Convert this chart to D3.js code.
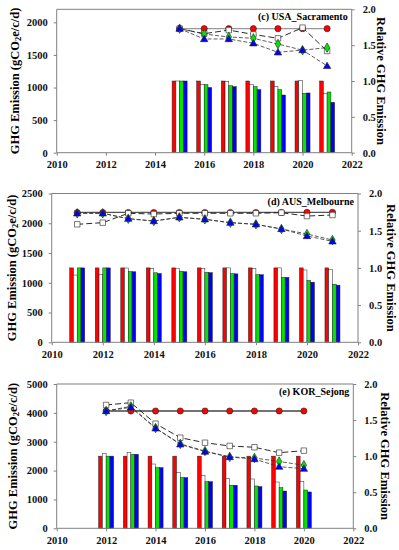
<!DOCTYPE html>
<html><head><meta charset="utf-8">
<script src="https://cdn.jsdelivr.net/npm/d3@7"></script>
<style>body{margin:0;background:#fff}svg{display:block}</style>
</head><body>
<script>
// ---------- DATA ----------
// (c) USA_Sacramento
const yearsC = [2015, 2016, 2017, 2018, 2019, 2020, 2021];
const barRedC   = [1100, 1100, 1100, 1100, 1100, 1100, 1100];
const barWhiteC = [1100, 1050, 1090, 1050, 1013, 1105, 905];
const barGreenC = [1100, 1045, 1028, 1013, 967, 911, 931];
const barBlueC  = [1100, 1000, 1013, 967, 885, 916, 773];
const lineRedC   = [1.73, 1.73, 1.73, 1.73, 1.73, 1.73, 1.73];
const lineWhiteC = [1.73, 1.66, 1.71, 1.65, 1.595, 1.744, 1.418];
const lineGreenC = [1.73, 1.655, 1.614, 1.595, 1.516, 1.43, 1.465];
const lineBlueC  = [1.73, 1.586, 1.586, 1.526, 1.40, 1.432, 1.21];

// (d) AUS_Melbourne
const yearsD = [2011, 2012, 2013, 2014, 2015, 2016, 2017, 2018, 2019, 2020, 2021];
const barRedD   = [1250, 1250, 1250, 1250, 1250, 1250, 1250, 1250, 1250, 1250, 1250];
const barWhiteD = [1130, 1140, 1248, 1240, 1245, 1240, 1250, 1240, 1250, 1215, 1225];
const barGreenD = [1250, 1250, 1188, 1168, 1195, 1175, 1152, 1135, 1090, 1040, 975];
const barBlueD  = [1250, 1250, 1185, 1155, 1185, 1170, 1150, 1135, 1090, 1010, 960];
const lineRedD   = [1.745, 1.745, 1.745, 1.745, 1.745, 1.745, 1.745, 1.745, 1.745, 1.747, 1.747];
const lineWhiteD = [1.586, 1.608, 1.734, 1.724, 1.734, 1.734, 1.734, 1.734, 1.742, 1.697, 1.711];
const lineGreenD = [1.734, 1.734, 1.661, 1.630, 1.680, 1.653, 1.608, 1.586, 1.523, 1.456, 1.375];
const lineBlueD  = [1.734, 1.734, 1.661, 1.630, 1.680, 1.653, 1.608, 1.586, 1.523, 1.429, 1.357];

// (e) KOR_Sejong
const yearsE = [2012, 2013, 2014, 2015, 2016, 2017, 2018, 2019, 2020];
const barRedE   = [2500, 2500, 2500, 2500, 2500, 2500, 2500, 2500, 2500];
const barWhiteE = [2600, 2633, 2228, 1927, 1836, 1732, 1708, 1604, 1628];
const barGreenE = [2500, 2564, 2100, 1753, 1615, 1490, 1466, 1407, 1327];
const barBlueE  = [2500, 2564, 2100, 1753, 1615, 1490, 1442, 1292, 1258];
const lineRedE   = [1.626, 1.626, 1.626, 1.626, 1.626, 1.626, 1.626, 1.626, 1.626];
const lineWhiteE = [1.709, 1.741, 1.450, 1.256, 1.186, 1.141, 1.123, 1.048, 1.076];
const lineGreenE = [1.626, 1.690, 1.390, 1.170, 1.070, 0.990, 0.975, 0.925, 0.875];
const lineBlueE  = [1.626, 1.677, 1.386, 1.164, 1.062, 0.988, 0.960, 0.854, 0.826];

// tick labels
const xTicks = [2010, 2012, 2014, 2016, 2018, 2020, 2022];
const rightTicks = [0, 0.5, 1.0, 1.5, 2.0];
const leftTicksC = [0, 500, 1000, 1500, 2000];
const leftTicksD = [0, 500, 1000, 1500, 2000, 2500];
const leftTicksE = [0, 1000, 2000, 3000, 4000, 5000];
const titles = ["(c) USA_Sacramento", "(d) AUS_Melbourne", "(e) KOR_Sejong"];

// ---------- DRAW ----------
const W = 399, H = 550;
const svg = d3.select("body").append("svg").attr("width", W).attr("height", H)
  .style("font-family", "'Liberation Serif','DejaVu Serif',serif");

const colors = ["#ff0000", "#ffffff", "#00e600", "#0000ff"];

const panels = [
  {x0: 56.7, x1: 351.7, y0: 9.3, y1: 152.7, lmax: 2200, lticks: leftTicksC, years: yearsC,
   bars: [barRedC, barWhiteC, barGreenC, barBlueC], lines: [lineRedC, lineWhiteC, lineGreenC, lineBlueC],
   title: titles[0], ltx: 15, rtx: 381, redLine: "#999"},
  {x0: 51.7, x1: 358, y0: 193.5, y1: 342.3, lmax: 2500, lticks: leftTicksD, years: yearsD,
   bars: [barRedD, barWhiteD, barGreenD, barBlueD], lines: [lineRedD, lineWhiteD, lineGreenD, lineBlueD],
   title: titles[1], ltx: 12, rtx: 391, redLine: "#555"},
  {x0: 56.7, x1: 353.3, y0: 384, y1: 528.3, lmax: 5000, lticks: leftTicksE, years: yearsE,
   bars: [barRedE, barWhiteE, barGreenE, barBlueE], lines: [lineRedE, lineWhiteE, lineGreenE, lineBlueE],
   title: titles[2], ltx: 13, rtx: 385, redLine: "#444"}
];

const axisColor = "#808080";

panels.forEach(p => {
  const x = d3.scaleLinear().domain([2010, 2022]).range([p.x0, p.x1]);
  const yl = d3.scaleLinear().domain([0, p.lmax]).range([p.y1, p.y0]);
  const yr = d3.scaleLinear().domain([0, 2]).range([p.y1, p.y0]);
  const g = svg.append("g");

  // bars
  const bw = 3.75;
  p.bars.forEach((series, si) => {
    g.selectAll(null).data(series.map((v, i) => ({yr: p.years[i], v})))
      .enter().append("rect")
      .attr("x", d => x(d.yr) + (si - 2) * bw)
      .attr("y", d => yl(d.v))
      .attr("width", bw)
      .attr("height", d => yl(0) - yl(d.v))
      .attr("fill", colors[si])
      .attr("stroke", "#222")
      .attr("stroke-width", 0.5);
  });

  // frame top
  g.append("line").attr("x1", p.x0).attr("x2", p.x1).attr("y1", p.y0).attr("y2", p.y0)
    .attr("stroke", axisColor).attr("stroke-width", 1);

  // axes
  const ax = d3.axisBottom(x).tickValues(xTicks).tickFormat(d3.format("d")).tickSize(3).tickPadding(5);
  const al = d3.axisLeft(yl).tickValues(p.lticks).tickFormat(d3.format("d")).tickSize(3).tickPadding(6);
  const ar = d3.axisRight(yr).tickValues(rightTicks).tickFormat(d3.format(".1f")).tickSize(3).tickPadding(8);
  const styleAxis = sel => {
    sel.select(".domain").attr("stroke", axisColor).attr("stroke-width", 1);
    sel.selectAll(".tick line").attr("stroke", axisColor);
    sel.selectAll("text").attr("font-family", "'Liberation Serif',serif")
      .attr("font-weight", "bold").attr("font-size", 10.5).attr("fill", "#111");
  };
  g.append("g").attr("transform", `translate(0,${p.y1})`).call(ax).call(styleAxis)
    .call(s => s.select(".domain").attr("d", `M${p.x0},0H${p.x1}`));
  g.append("g").attr("transform", `translate(${p.x0},0)`).call(al).call(styleAxis)
    .call(s => s.select(".domain").attr("d", `M0,${p.y0}V${p.y1}`));
  g.append("g").attr("transform", `translate(${p.x1},0)`).call(ar).call(styleAxis)
    .call(s => s.select(".domain").attr("d", `M0,${p.y0}V${p.y1}`));

  // lines
  const lineGen = d3.line().x(d => x(d.yr)).y(d => yr(d.v));
  const styles = [
    {stroke: p.redLine, dash: null, w: 1.3},
    {stroke: "#111", dash: "6,3", w: 0.9},
    {stroke: "#333", dash: "4,2", w: 0.8},
    {stroke: "#333", dash: "4,2", w: 0.8}
  ];
  const pts = p.lines.map(s => s.map((v, i) => ({yr: p.years[i], v})));
  pts.forEach((d, si) => {
    g.append("path").datum(d).attr("d", lineGen).attr("fill", "none")
      .attr("stroke", styles[si].stroke).attr("stroke-width", styles[si].w)
      .attr("stroke-dasharray", styles[si].dash);
  });
  // markers
  const sym = [d3.symbolCircle, d3.symbolSquare, d3.symbolDiamond, d3.symbolTriangle];
  const sizes = [30, 30, 26, 24];
  pts.forEach((d, si) => {
    g.selectAll(null).data(d).enter().append("path")
      .attr("d", d3.symbol().type(sym[si]).size(sizes[si]))
      .attr("transform", dd => `translate(${x(dd.yr)},${yr(dd.v) + (si === 3 ? 0.5 : 0)})`)
      .attr("fill", colors[si]).attr("stroke", "#222").attr("stroke-width", 0.6);
  });

  // panel title
  g.append("text").attr("x", p.x1 - 4).attr("y", p.y0 + 11).attr("text-anchor", "end")
    .attr("font-weight", "bold").attr("font-size", 10).text(p.title);

  // axis titles
  const cy = (p.y0 + p.y1) / 2;
  const lt = g.append("text").attr("transform", `translate(${p.ltx},${cy}) rotate(-90)`)
    .attr("text-anchor", "middle").attr("dominant-baseline", "central")
    .attr("font-weight", "bold").attr("font-size", 12.5);
  lt.append("tspan").text("GHG Emission (gCO");
  lt.append("tspan").attr("font-size", 8.5).attr("dy", 3).text("2");
  lt.append("tspan").attr("dy", -3).text("e/c/d)");
  g.append("text").attr("transform", `translate(${p.rtx},${cy}) rotate(90)`)
    .attr("text-anchor", "middle").attr("dominant-baseline", "central")
    .attr("font-weight", "bold").attr("font-size", 12.5).text("Relative GHG Emission");
});
</script>
</body></html>
